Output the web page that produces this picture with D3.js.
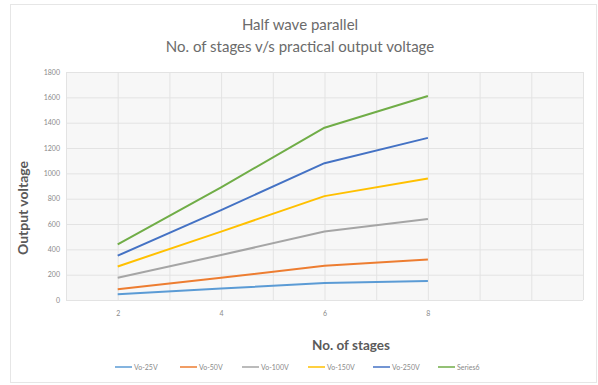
<!DOCTYPE html>
<html>
<head>
<meta charset="utf-8">
<script src="https://cdn.jsdelivr.net/npm/d3@7"></script>
<style>
  html, body { margin: 0; padding: 0; background: #fff; }
  svg { display: block; font-family: Lato, "Open Sans", sans-serif; }
</style>
</head>
<body>
<svg id="chart" width="598" height="385"></svg>
<script>
// Number of stages on the x axis
const stages = [2, 4, 6, 8];

// Practical output voltage for each input voltage series
const vo25 = [45, 90, 135, 150];
const vo50 = [85, 175, 270, 320];
const vo100 = [175, 355, 540, 640];
const vo150 = [265, 540, 820, 960];
const vo250 = [350, 710, 1080, 1280];
const series6 = [440, 890, 1360, 1610];

const seriesNames = ["Vo-25V", "Vo-50V", "Vo-100V", "Vo-150V", "Vo-250V", "Series6"];
const seriesColors = ["#5B9BD5", "#ED7D31", "#A5A5A5", "#FFC000", "#4472C4", "#70AD47"];
const seriesValues = [vo25, vo50, vo100, vo150, vo250, series6];

const yTicks = [0, 200, 400, 600, 800, 1000, 1200, 1400, 1600, 1800];
const xTickLabels = [2, 4, 6, 8];

const svg = d3.select("#chart");

// faint frame around the chart
svg.append("rect")
  .attr("x", 10.5).attr("y", 4.5).attr("width", 586).attr("height", 378)
  .attr("fill", "none").attr("stroke", "#e6e6e6").attr("stroke-width", 1);

const plot = { left: 66, right: 583, top: 72, bottom: 300 };

const x = d3.scaleLinear().domain([1, 11]).range([plot.left, plot.right]);
const y = d3.scaleLinear().domain([0, 1800]).range([plot.bottom, plot.top]);

// plot area background
svg.append("rect")
  .attr("x", plot.left).attr("y", plot.top)
  .attr("width", plot.right - plot.left).attr("height", plot.bottom - plot.top)
  .attr("fill", "#f7f7f7");

// horizontal gridlines
svg.append("g")
  .attr("transform", `translate(${plot.left},0)`)
  .call(d3.axisLeft(y).tickValues(yTicks).tickSize(-(plot.right - plot.left)).tickFormat(""))
  .call(g => g.select(".domain").remove())
  .call(g => g.selectAll("line").attr("stroke", "#e3e3e3"));

// vertical gridlines
svg.append("g")
  .attr("transform", `translate(0,${plot.bottom})`)
  .call(d3.axisBottom(x).tickValues(d3.range(1, 12)).tickSize(-(plot.bottom - plot.top)).tickFormat(""))
  .call(g => g.select(".domain").remove())
  .call(g => g.selectAll("line").attr("stroke", "#e3e3e3"));

// y tick labels
svg.append("g")
  .attr("transform", `translate(${plot.left - 6},0)`)
  .call(d3.axisLeft(y).tickValues(yTicks).tickSize(0).tickPadding(0).tickFormat(d3.format("d")))
  .call(g => g.select(".domain").remove())
  .call(g => g.selectAll("text").attr("fill", "#8a8a8a").attr("font-size", 7).attr("font-family", "Lato, sans-serif"));

// x tick labels
svg.append("g")
  .attr("transform", `translate(0,${plot.bottom + 11})`)
  .call(d3.axisBottom(x).tickValues(xTickLabels).tickSize(0).tickPadding(0).tickFormat(d3.format("d")))
  .call(g => g.select(".domain").remove())
  .call(g => g.selectAll("text").attr("fill", "#8a8a8a").attr("font-size", 7).attr("font-family", "Lato, sans-serif"));

// series lines
const line = d3.line().x((d, i) => x(stages[i])).y(d => y(d));
seriesValues.forEach((vals, k) => {
  svg.append("path")
    .datum(vals)
    .attr("d", line)
    .attr("fill", "none")
    .attr("stroke", seriesColors[k])
    .attr("stroke-width", 2)
    .attr("stroke-linejoin", "round");
});

// titles
svg.append("text")
  .attr("x", 300).attr("y", 30)
  .attr("text-anchor", "middle").attr("font-size", 15).attr("fill", "#6b6b6b")
  .text("Half wave parallel");
svg.append("text")
  .attr("x", 300).attr("y", 52)
  .attr("text-anchor", "middle").attr("font-size", 15).attr("fill", "#6b6b6b")
  .text("No. of stages v/s practical output voltage");

// axis titles
svg.append("text")
  .attr("transform", "translate(28,208) rotate(-90)")
  .attr("text-anchor", "middle").attr("font-size", 14).attr("font-weight", "bold").attr("fill", "#5a5a5a")
  .text("Output voltage");
svg.append("text")
  .attr("x", 351).attr("y", 350)
  .attr("text-anchor", "middle").attr("font-size", 13.5).attr("font-weight", "bold").attr("fill", "#5a5a5a")
  .text("No. of stages");

// legend
const legendX = [115, 180, 242, 308, 373, 438];
const legend = svg.append("g");
seriesNames.forEach((name, k) => {
  const g = legend.append("g").attr("transform", `translate(${legendX[k]},367)`);
  g.append("line").attr("x1", 0).attr("x2", 17).attr("y1", 0).attr("y2", 0)
    .attr("stroke", seriesColors[k]).attr("stroke-width", 1.5);
  g.append("text").attr("x", 19).attr("y", 2.5)
    .attr("font-size", 7).attr("fill", "#8a8a8a").text(name);
});
</script>
</body>
</html>
